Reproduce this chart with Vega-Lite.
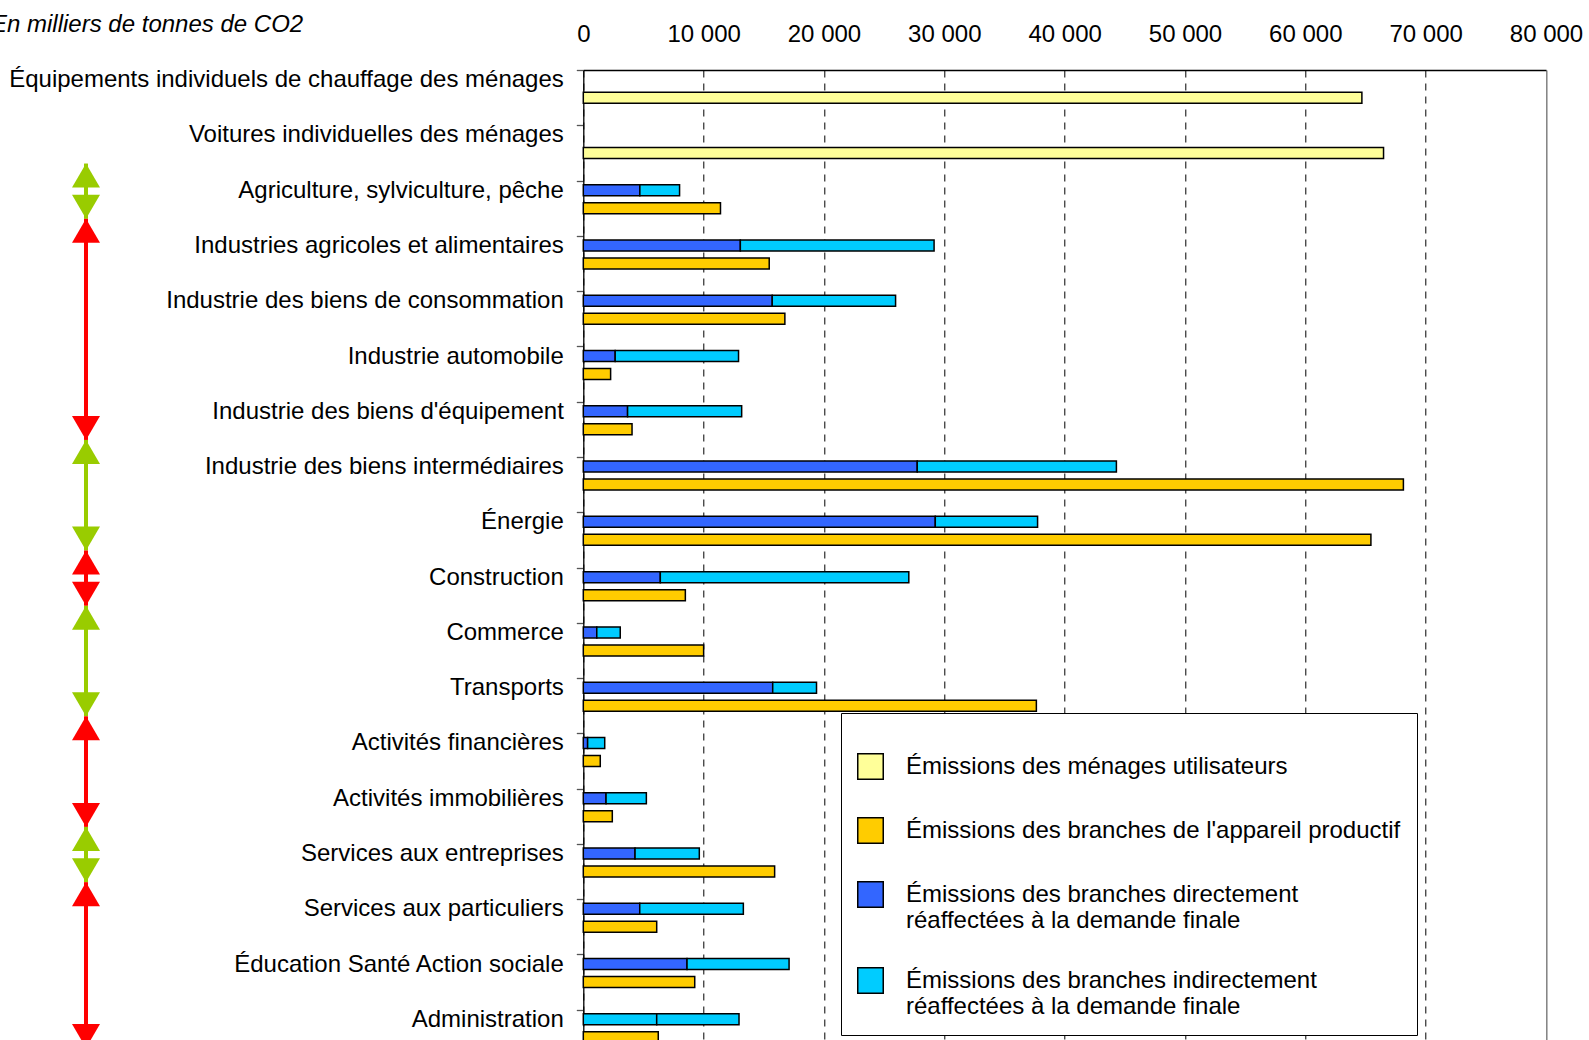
{
  "$schema": "https://vega.github.io/schema/vega-lite/v6.json",
  "background": "white",
  "padding": {"left": -9, "top": 13, "right": 0, "bottom": 0},
  "config": {"font": "Liberation Sans", "view": {"stroke": null}},
  "title": {"text": "En milliers de tonnes de CO2", "anchor": "start", "frame": "group", "fontSize": 24, "fontStyle": "italic", "fontWeight": "normal", "color": "black", "dx": -75, "dy": 15.4, "offset": 0},
  "datasets": {
    "barres": [
      {"branche": "Équipements individuels de chauffage des ménages", "serie": "Émissions des ménages utilisateurs", "valeur": 64700},
      {"branche": "Voitures individuelles des ménages", "serie": "Émissions des ménages utilisateurs", "valeur": 66500},
      {"branche": "Agriculture, sylviculture, pêche", "serie": "Émissions des branches directement réaffectées à la demande finale", "valeur": 4700},
      {"branche": "Agriculture, sylviculture, pêche", "serie": "Émissions des branches indirectement réaffectées à la demande finale", "valeur": 3300},
      {"branche": "Agriculture, sylviculture, pêche", "serie": "Émissions des branches de l'appareil productif", "valeur": 11400},
      {"branche": "Industries agricoles et alimentaires", "serie": "Émissions des branches directement réaffectées à la demande finale", "valeur": 13050},
      {"branche": "Industries agricoles et alimentaires", "serie": "Émissions des branches indirectement réaffectées à la demande finale", "valeur": 16100},
      {"branche": "Industries agricoles et alimentaires", "serie": "Émissions des branches de l'appareil productif", "valeur": 15450},
      {"branche": "Industrie des biens de consommation", "serie": "Émissions des branches directement réaffectées à la demande finale", "valeur": 15700},
      {"branche": "Industrie des biens de consommation", "serie": "Émissions des branches indirectement réaffectées à la demande finale", "valeur": 10250},
      {"branche": "Industrie des biens de consommation", "serie": "Émissions des branches de l'appareil productif", "valeur": 16750},
      {"branche": "Industrie automobile", "serie": "Émissions des branches directement réaffectées à la demande finale", "valeur": 2650},
      {"branche": "Industrie automobile", "serie": "Émissions des branches indirectement réaffectées à la demande finale", "valeur": 10250},
      {"branche": "Industrie automobile", "serie": "Émissions des branches de l'appareil productif", "valeur": 2270},
      {"branche": "Industrie des biens d'équipement", "serie": "Émissions des branches directement réaffectées à la demande finale", "valeur": 3680},
      {"branche": "Industrie des biens d'équipement", "serie": "Émissions des branches indirectement réaffectées à la demande finale", "valeur": 9480},
      {"branche": "Industrie des biens d'équipement", "serie": "Émissions des branches de l'appareil productif", "valeur": 4050},
      {"branche": "Industrie des biens intermédiaires", "serie": "Émissions des branches directement réaffectées à la demande finale", "valeur": 27750},
      {"branche": "Industrie des biens intermédiaires", "serie": "Émissions des branches indirectement réaffectées à la demande finale", "valeur": 16550},
      {"branche": "Industrie des biens intermédiaires", "serie": "Émissions des branches de l'appareil productif", "valeur": 68150},
      {"branche": "Énergie", "serie": "Émissions des branches directement réaffectées à la demande finale", "valeur": 29250},
      {"branche": "Énergie", "serie": "Émissions des branches indirectement réaffectées à la demande finale", "valeur": 8500},
      {"branche": "Énergie", "serie": "Émissions des branches de l'appareil productif", "valeur": 65450},
      {"branche": "Construction", "serie": "Émissions des branches directement réaffectées à la demande finale", "valeur": 6400},
      {"branche": "Construction", "serie": "Émissions des branches indirectement réaffectées à la demande finale", "valeur": 20650},
      {"branche": "Construction", "serie": "Émissions des branches de l'appareil productif", "valeur": 8480},
      {"branche": "Commerce", "serie": "Émissions des branches directement réaffectées à la demande finale", "valeur": 1120},
      {"branche": "Commerce", "serie": "Émissions des branches indirectement réaffectées à la demande finale", "valeur": 1950},
      {"branche": "Commerce", "serie": "Émissions des branches de l'appareil productif", "valeur": 10000},
      {"branche": "Transports", "serie": "Émissions des branches directement réaffectées à la demande finale", "valeur": 15740},
      {"branche": "Transports", "serie": "Émissions des branches indirectement réaffectées à la demande finale", "valeur": 3640},
      {"branche": "Transports", "serie": "Émissions des branches de l'appareil productif", "valeur": 37650},
      {"branche": "Activités financières", "serie": "Émissions des branches directement réaffectées à la demande finale", "valeur": 360},
      {"branche": "Activités financières", "serie": "Émissions des branches indirectement réaffectées à la demande finale", "valeur": 1420},
      {"branche": "Activités financières", "serie": "Émissions des branches de l'appareil productif", "valeur": 1410},
      {"branche": "Activités immobilières", "serie": "Émissions des branches directement réaffectées à la demande finale", "valeur": 1890},
      {"branche": "Activités immobilières", "serie": "Émissions des branches indirectement réaffectées à la demande finale", "valeur": 3350},
      {"branche": "Activités immobilières", "serie": "Émissions des branches de l'appareil productif", "valeur": 2410},
      {"branche": "Services aux entreprises", "serie": "Émissions des branches directement réaffectées à la demande finale", "valeur": 4300},
      {"branche": "Services aux entreprises", "serie": "Émissions des branches indirectement réaffectées à la demande finale", "valeur": 5340},
      {"branche": "Services aux entreprises", "serie": "Émissions des branches de l'appareil productif", "valeur": 15900},
      {"branche": "Services aux particuliers", "serie": "Émissions des branches directement réaffectées à la demande finale", "valeur": 4690},
      {"branche": "Services aux particuliers", "serie": "Émissions des branches indirectement réaffectées à la demande finale", "valeur": 8610},
      {"branche": "Services aux particuliers", "serie": "Émissions des branches de l'appareil productif", "valeur": 6100},
      {"branche": "Éducation Santé Action sociale", "serie": "Émissions des branches directement réaffectées à la demande finale", "valeur": 8620},
      {"branche": "Éducation Santé Action sociale", "serie": "Émissions des branches indirectement réaffectées à la demande finale", "valeur": 8480},
      {"branche": "Éducation Santé Action sociale", "serie": "Émissions des branches de l'appareil productif", "valeur": 9260},
      {"branche": "Administration", "serie": "Émissions des branches directement réaffectées à la demande finale", "valeur": 6100},
      {"branche": "Administration", "serie": "Émissions des branches indirectement réaffectées à la demande finale", "valeur": 6840},
      {"branche": "Administration", "serie": "Émissions des branches de l'appareil productif", "valeur": 6230}
    ],
    "fleches": [
      {"debut": "Agriculture, sylviculture, pêche", "fin": "Agriculture, sylviculture, pêche", "bilan": "appareil productif > demande finale"},
      {"debut": "Industries agricoles et alimentaires", "fin": "Industrie des biens d'équipement", "bilan": "appareil productif < demande finale"},
      {"debut": "Industrie des biens intermédiaires", "fin": "Énergie", "bilan": "appareil productif > demande finale"},
      {"debut": "Construction", "fin": "Construction", "bilan": "appareil productif < demande finale"},
      {"debut": "Commerce", "fin": "Transports", "bilan": "appareil productif > demande finale"},
      {"debut": "Activités financières", "fin": "Activités immobilières", "bilan": "appareil productif < demande finale"},
      {"debut": "Services aux entreprises", "fin": "Services aux entreprises", "bilan": "appareil productif > demande finale"},
      {"debut": "Services aux particuliers", "fin": "Administration", "bilan": "appareil productif < demande finale"}
    ]
  },
  "spacing": 477.3,
  "bounds": "flush",
  "resolve": {"scale": {"y": "independent", "color": "independent"}, "legend": {"color": "independent"}, "axis": {"y": "independent"}},
  "hconcat": [
    {
      "width": 40,
      "height": 995,
      "data": {"name": "fleches"},
      "encoding": {
        "y": {"field": "debut", "type": "nominal", "bandPosition": 0, "axis": null,
          "scale": {"domain": ["Équipements individuels de chauffage des ménages", "Voitures individuelles des ménages", "Agriculture, sylviculture, pêche", "Industries agricoles et alimentaires", "Industrie des biens de consommation", "Industrie automobile", "Industrie des biens d'équipement", "Industrie des biens intermédiaires", "Énergie", "Construction", "Commerce", "Transports", "Activités financières", "Activités immobilières", "Services aux entreprises", "Services aux particuliers", "Éducation Santé Action sociale", "Administration"], "paddingInner": 0, "paddingOuter": 0}},
        "color": {"field": "bilan", "type": "nominal", "legend": null,
          "scale": {"domain": ["appareil productif > demande finale", "appareil productif < demande finale"], "range": ["#99cc00", "#ff0000"]}}
      },
      "layer": [
        {"mark": {"type": "rule", "strokeWidth": 4, "yOffset": -17, "y2Offset": -17},
         "encoding": {"y2": {"field": "fin", "bandPosition": 1}}},
        {"mark": {"type": "point", "shape": "M0,-0.857L1,0.857L-1,0.857Z", "filled": true, "size": 784, "opacity": 1, "yOffset": -5}},
        {"mark": {"type": "point", "shape": "M0,0.857L1,-0.857L-1,-0.857Z", "filled": true, "size": 784, "opacity": 1, "yOffset": -29},
         "encoding": {"y": {"field": "fin", "type": "nominal", "bandPosition": 1}}}
      ]
    },
    {
      "width": 962.7,
      "height": 995,
      "data": {"name": "barres"},
      "encoding": {
        "y": {"field": "branche", "type": "nominal", "sort": null,
          "scale": {"domain": ["Équipements individuels de chauffage des ménages", "Voitures individuelles des ménages", "Agriculture, sylviculture, pêche", "Industries agricoles et alimentaires", "Industrie des biens de consommation", "Industrie automobile", "Industrie des biens d'équipement", "Industrie des biens intermédiaires", "Énergie", "Construction", "Commerce", "Transports", "Activités financières", "Activités immobilières", "Services aux entreprises", "Services aux particuliers", "Éducation Santé Action sociale", "Administration"], "paddingInner": 0, "paddingOuter": 0},
          "axis": {"orient": "left", "title": null, "labelFontSize": 24, "labelColor": "black", "labelLimit": 800, "labelPadding": 13, "labelOffset": -18, "tickSize": 7, "tickColor": "#555555", "tickWidth": 1.3, "tickBand": "extent", "domainColor": "black", "domainWidth": 1.3}},
        "x": {"field": "valeur", "type": "quantitative",
          "scale": {"domain": [0, 80000], "nice": false},
          "axis": {"orient": "top", "title": null, "values": [0, 10000, 20000, 30000, 40000, 50000, 60000, 70000, 80000],
            "labelExpr": "replace(format(datum.value, ','), ',', ' ')", "labelFontSize": 24, "labelColor": "black", "labelPadding": 24, "labelFlush": false,
            "ticks": false, "domainColor": "black", "domainWidth": 1.3, "grid": true,
            "gridColor": {"condition": {"test": "datum.value === 80000", "value": "#808080"}, "value": "black"},
            "gridDash": {"condition": {"test": "datum.value === 80000", "value": []}, "value": [7, 6]},
            "gridWidth": {"condition": {"test": "datum.value === 80000", "value": 1.5}, "value": 1}}}
      },
      "layer": [
        {
          "transform": [{"filter": {"field": "serie", "oneOf": ["Émissions des ménages utilisateurs", "Émissions des branches de l'appareil productif"]}}],
          "mark": {"type": "bar", "height": 11, "stroke": "black", "strokeWidth": 1.5},
          "encoding": {
            "color": {"field": "serie", "type": "nominal",
              "scale": {"domain": ["Émissions des ménages utilisateurs", "Émissions des branches de l'appareil productif", "Émissions des branches directement réaffectées à la demande finale", "Émissions des branches indirectement réaffectées à la demande finale"], "range": ["#ffff99", "#ffcc00", "#3366ff", "#00ccff"]},
              "legend": {"orient": "none", "legendX": 257.7, "legendY": 643, "direction": "vertical",
                "title": "\u00a0", "titleFontSize": 24, "titlePadding": 0, "titleLimit": 2000,
                "padding": 16, "strokeColor": "black", "fillColor": "white",
                "labelFontSize": 24, "labelColor": "black", "labelLimit": 1200, "labelOffset": 22,
                "symbolType": "square", "symbolSize": 650, "symbolStrokeColor": "black", "symbolStrokeWidth": 1.5, "symbolOpacity": 1,
                "rowPadding": 31,
                "labelExpr": "indexof(datum.label, ' réaffectées') > 0 ? [substring(datum.label, 0, indexof(datum.label, ' réaffectées')), (indexof(datum.label, 'indirectement') > 0 ? '\u00a0\u00a0\u00a0\u00a0\u00a0\u00a0\u00a0\u00a0\u00a0\u00a0\u00a0\u00a0\u00a0\u00a0\u00a0\u00a0\u00a0\u00a0\u00a0\u00a0\u00a0\u00a0\u00a0\u00a0' : '\u00a0\u00a0\u00a0\u00a0\u00a0\u00a0\u00a0\u00a0\u00a0\u00a0\u00a0\u00a0\u00a0\u00a0\u00a0\u00a0\u00a0\u00a0\u00a0\u00a0\u00a0\u00a0\u00a0') + 'réaffectées à la demande finale'] : (indexof(datum.label, 'productif') > 0 ? datum.label + '\u00a0\u00a0\u00a0\u00a0\u00a0\u00a0\u00a0\u00a0\u00a0\u00a0\u00a0\u00a0\u00a0\u00a0\u00a0\u00a0\u00a0\u00a0\u00a0\u00a0\u00a0\u00a0\u00a0\u00a0\u00a0\u00a0\u00a0\u00a0\u00a0\u00a0\u00a0\u00a0\u00a0\u00a0' : datum.label)"}}
          }
        },
        {
          "transform": [{"filter": {"field": "serie", "oneOf": ["Émissions des branches directement réaffectées à la demande finale", "Émissions des branches indirectement réaffectées à la demande finale"]}}],
          "mark": {"type": "bar", "height": 11, "stroke": "black", "strokeWidth": 1.5, "yOffset": -18},
          "encoding": {
            "color": {"field": "serie", "type": "nominal",
              "condition": {"test": "datum.branche === 'Administration'", "value": "#00ccff"}},
            "order": {"field": "serie", "sort": "ascending"}
          }
        }
      ]
    }
  ]
}
